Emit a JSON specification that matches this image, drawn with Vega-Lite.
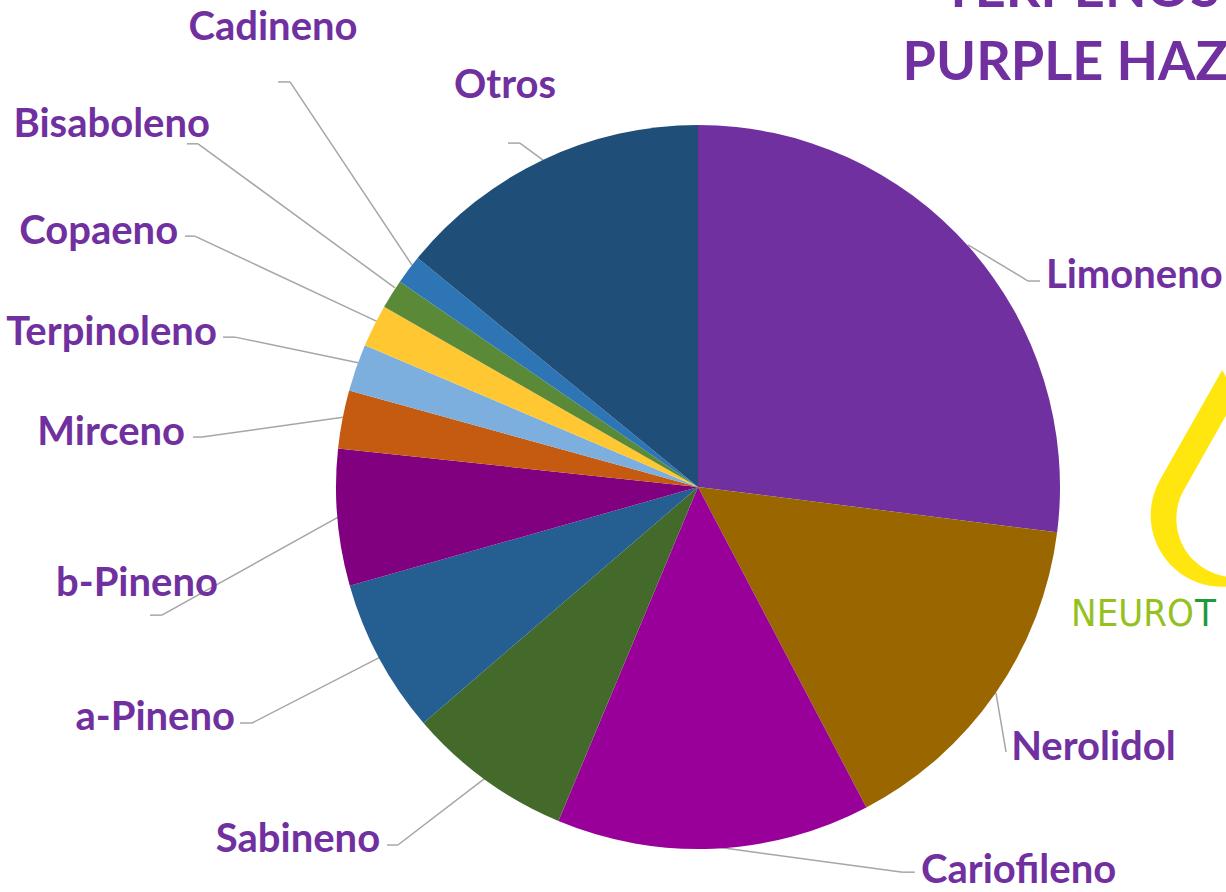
{
  "$schema": "https://vega.github.io/schema/vega-lite/v6.json",
  "width": 724,
  "height": 724,
  "autosize": "none",
  "padding": {"left": 336, "top": 125, "right": 166, "bottom": 43},
  "background": "white",
  "config": {
    "view": {"stroke": null},
    "axis": {"disable": true},
    "text": {"font": "Lato", "fontWeight": "bold", "fontSize": 40, "color": "#7030A0"},
    "rule": {"color": "#A6A6A6", "strokeWidth": 1.5}
  },
  "datasets": {
    "terpenos": [
      {"terpeno": "Limoneno", "valor": 27.0, "orden": 1},
      {"terpeno": "Nerolidol", "valor": 15.3, "orden": 2},
      {"terpeno": "Cariofileno", "valor": 14.0, "orden": 3},
      {"terpeno": "Sabineno", "valor": 7.4, "orden": 4},
      {"terpeno": "a-Pineno", "valor": 6.9, "orden": 5},
      {"terpeno": "b-Pineno", "valor": 6.1, "orden": 6},
      {"terpeno": "Mirceno", "valor": 2.6, "orden": 7},
      {"terpeno": "Terpinoleno", "valor": 2.1, "orden": 8},
      {"terpeno": "Copaeno", "valor": 1.9, "orden": 9},
      {"terpeno": "Bisaboleno", "valor": 1.3, "orden": 10},
      {"terpeno": "Cadineno", "valor": 1.3, "orden": 11},
      {"terpeno": "Otros", "valor": 14.1, "orden": 12}
    ]
  },
  "data": {"name": "terpenos"},
  "layer": [
    {"data": {"values": [{}]}, "mark": {"type": "rule"}, "encoding": {"x": {"datum": 0.945, "type": "quantitative", "scale": {"domain": [-1, 1]}, "axis": null}, "y": {"datum": -0.569, "type": "quantitative", "scale": {"domain": [-1, 1], "reverse": true}, "axis": null}, "x2": {"datum": 0.912}, "y2": {"datum": -0.569}}},
    {"data": {"values": [{}]}, "mark": {"type": "rule"}, "encoding": {"x": {"datum": 0.912, "type": "quantitative", "scale": {"domain": [-1, 1]}, "axis": null}, "y": {"datum": -0.569, "type": "quantitative", "scale": {"domain": [-1, 1], "reverse": true}, "axis": null}, "x2": {"datum": 0.746}, "y2": {"datum": -0.669}}},
    {"data": {"values": [{}]}, "mark": {"type": "rule"}, "encoding": {"x": {"datum": 0.851, "type": "quantitative", "scale": {"domain": [-1, 1]}, "axis": null}, "y": {"datum": 0.732, "type": "quantitative", "scale": {"domain": [-1, 1], "reverse": true}, "axis": null}, "x2": {"datum": 0.823}, "y2": {"datum": 0.569}}},
    {"data": {"values": [{}]}, "mark": {"type": "rule"}, "encoding": {"x": {"datum": 0.599, "type": "quantitative", "scale": {"domain": [-1, 1]}, "axis": null}, "y": {"datum": 1.064, "type": "quantitative", "scale": {"domain": [-1, 1], "reverse": true}, "axis": null}, "x2": {"datum": 0.566}, "y2": {"datum": 1.064}}},
    {"data": {"values": [{}]}, "mark": {"type": "rule"}, "encoding": {"x": {"datum": 0.566, "type": "quantitative", "scale": {"domain": [-1, 1]}, "axis": null}, "y": {"datum": 1.064, "type": "quantitative", "scale": {"domain": [-1, 1], "reverse": true}, "axis": null}, "x2": {"datum": 0.047}, "y2": {"datum": 0.994}}},
    {"data": {"values": [{}]}, "mark": {"type": "rule"}, "encoding": {"x": {"datum": -0.859, "type": "quantitative", "scale": {"domain": [-1, 1]}, "axis": null}, "y": {"datum": 0.989, "type": "quantitative", "scale": {"domain": [-1, 1], "reverse": true}, "axis": null}, "x2": {"datum": -0.829}, "y2": {"datum": 0.989}}},
    {"data": {"values": [{}]}, "mark": {"type": "rule"}, "encoding": {"x": {"datum": -0.829, "type": "quantitative", "scale": {"domain": [-1, 1]}, "axis": null}, "y": {"datum": 0.989, "type": "quantitative", "scale": {"domain": [-1, 1], "reverse": true}, "axis": null}, "x2": {"datum": -0.588}, "y2": {"datum": 0.804}}},
    {"data": {"values": [{}]}, "mark": {"type": "rule"}, "encoding": {"x": {"datum": -1.265, "type": "quantitative", "scale": {"domain": [-1, 1]}, "axis": null}, "y": {"datum": 0.652, "type": "quantitative", "scale": {"domain": [-1, 1], "reverse": true}, "axis": null}, "x2": {"datum": -1.232}, "y2": {"datum": 0.652}}},
    {"data": {"values": [{}]}, "mark": {"type": "rule"}, "encoding": {"x": {"datum": -1.232, "type": "quantitative", "scale": {"domain": [-1, 1]}, "axis": null}, "y": {"datum": 0.652, "type": "quantitative", "scale": {"domain": [-1, 1], "reverse": true}, "axis": null}, "x2": {"datum": -0.878}, "y2": {"datum": 0.47}}},
    {"data": {"values": [{}]}, "mark": {"type": "rule"}, "encoding": {"x": {"datum": -1.514, "type": "quantitative", "scale": {"domain": [-1, 1]}, "axis": null}, "y": {"datum": 0.354, "type": "quantitative", "scale": {"domain": [-1, 1], "reverse": true}, "axis": null}, "x2": {"datum": -1.481}, "y2": {"datum": 0.354}}},
    {"data": {"values": [{}]}, "mark": {"type": "rule"}, "encoding": {"x": {"datum": -1.481, "type": "quantitative", "scale": {"domain": [-1, 1]}, "axis": null}, "y": {"datum": 0.354, "type": "quantitative", "scale": {"domain": [-1, 1], "reverse": true}, "axis": null}, "x2": {"datum": -0.994}, "y2": {"datum": 0.083}}},
    {"data": {"values": [{}]}, "mark": {"type": "rule"}, "encoding": {"x": {"datum": -1.395, "type": "quantitative", "scale": {"domain": [-1, 1]}, "axis": null}, "y": {"datum": -0.138, "type": "quantitative", "scale": {"domain": [-1, 1], "reverse": true}, "axis": null}, "x2": {"datum": -1.37}, "y2": {"datum": -0.138}}},
    {"data": {"values": [{}]}, "mark": {"type": "rule"}, "encoding": {"x": {"datum": -1.37, "type": "quantitative", "scale": {"domain": [-1, 1]}, "axis": null}, "y": {"datum": -0.138, "type": "quantitative", "scale": {"domain": [-1, 1], "reverse": true}, "axis": null}, "x2": {"datum": -0.981}, "y2": {"datum": -0.193}}},
    {"data": {"values": [{}]}, "mark": {"type": "rule"}, "encoding": {"x": {"datum": -1.312, "type": "quantitative", "scale": {"domain": [-1, 1]}, "axis": null}, "y": {"datum": -0.414, "type": "quantitative", "scale": {"domain": [-1, 1], "reverse": true}, "axis": null}, "x2": {"datum": -1.279}, "y2": {"datum": -0.414}}},
    {"data": {"values": [{}]}, "mark": {"type": "rule"}, "encoding": {"x": {"datum": -1.279, "type": "quantitative", "scale": {"domain": [-1, 1]}, "axis": null}, "y": {"datum": -0.414, "type": "quantitative", "scale": {"domain": [-1, 1], "reverse": true}, "axis": null}, "x2": {"datum": -0.939}, "y2": {"datum": -0.343}}},
    {"data": {"values": [{}]}, "mark": {"type": "rule"}, "encoding": {"x": {"datum": -1.417, "type": "quantitative", "scale": {"domain": [-1, 1]}, "axis": null}, "y": {"datum": -0.693, "type": "quantitative", "scale": {"domain": [-1, 1], "reverse": true}, "axis": null}, "x2": {"datum": -1.39}, "y2": {"datum": -0.693}}},
    {"data": {"values": [{}]}, "mark": {"type": "rule"}, "encoding": {"x": {"datum": -1.39, "type": "quantitative", "scale": {"domain": [-1, 1]}, "axis": null}, "y": {"datum": -0.693, "type": "quantitative", "scale": {"domain": [-1, 1], "reverse": true}, "axis": null}, "x2": {"datum": -0.884}, "y2": {"datum": -0.456}}},
    {"data": {"values": [{}]}, "mark": {"type": "rule"}, "encoding": {"x": {"datum": -1.412, "type": "quantitative", "scale": {"domain": [-1, 1]}, "axis": null}, "y": {"datum": -0.948, "type": "quantitative", "scale": {"domain": [-1, 1], "reverse": true}, "axis": null}, "x2": {"datum": -1.381}, "y2": {"datum": -0.948}}},
    {"data": {"values": [{}]}, "mark": {"type": "rule"}, "encoding": {"x": {"datum": -1.381, "type": "quantitative", "scale": {"domain": [-1, 1]}, "axis": null}, "y": {"datum": -0.948, "type": "quantitative", "scale": {"domain": [-1, 1], "reverse": true}, "axis": null}, "x2": {"datum": -0.837}, "y2": {"datum": -0.55}}},
    {"data": {"values": [{}]}, "mark": {"type": "rule"}, "encoding": {"x": {"datum": -1.16, "type": "quantitative", "scale": {"domain": [-1, 1]}, "axis": null}, "y": {"datum": -1.119, "type": "quantitative", "scale": {"domain": [-1, 1], "reverse": true}, "axis": null}, "x2": {"datum": -1.127}, "y2": {"datum": -1.119}}},
    {"data": {"values": [{}]}, "mark": {"type": "rule"}, "encoding": {"x": {"datum": -1.127, "type": "quantitative", "scale": {"domain": [-1, 1]}, "axis": null}, "y": {"datum": -1.119, "type": "quantitative", "scale": {"domain": [-1, 1], "reverse": true}, "axis": null}, "x2": {"datum": -0.79}, "y2": {"datum": -0.613}}},
    {"data": {"values": [{}]}, "mark": {"type": "rule"}, "encoding": {"x": {"datum": -0.525, "type": "quantitative", "scale": {"domain": [-1, 1]}, "axis": null}, "y": {"datum": -0.95, "type": "quantitative", "scale": {"domain": [-1, 1], "reverse": true}, "axis": null}, "x2": {"datum": -0.492}, "y2": {"datum": -0.95}}},
    {"data": {"values": [{}]}, "mark": {"type": "rule"}, "encoding": {"x": {"datum": -0.492, "type": "quantitative", "scale": {"domain": [-1, 1]}, "axis": null}, "y": {"datum": -0.95, "type": "quantitative", "scale": {"domain": [-1, 1], "reverse": true}, "axis": null}, "x2": {"datum": -0.428}, "y2": {"datum": -0.903}}},
    {
      "mark": {"type": "arc"},
      "encoding": {
        "theta": {"field": "valor", "type": "quantitative", "stack": true},
        "order": {"field": "orden", "type": "quantitative"},
        "color": {
          "field": "terpeno",
          "type": "nominal",
          "legend": null,
          "scale": {
            "domain": ["Limoneno", "Nerolidol", "Cariofileno", "Sabineno", "a-Pineno", "b-Pineno", "Mirceno", "Terpinoleno", "Copaeno", "Bisaboleno", "Cadineno", "Otros"],
            "range": ["#7030A0", "#996600", "#990099", "#436A2B", "#255E91", "#800080", "#C55A11", "#7CAFDD", "#FFC832", "#5A8A37", "#2E75B6", "#1F4E79"]
          }
        }
      }
    },
    {"data": {"values": [{}]}, "mark": {"type": "text", "align": "left", "baseline": "middle", "text": "Limoneno"}, "encoding": {"x": {"datum": 0.961, "type": "quantitative", "scale": {"domain": [-1, 1]}, "axis": null}, "y": {"datum": -0.583, "type": "quantitative", "scale": {"domain": [-1, 1], "reverse": true}, "axis": null}}},
    {"data": {"values": [{}]}, "mark": {"type": "text", "align": "left", "baseline": "middle", "text": "Nerolidol"}, "encoding": {"x": {"datum": 0.865, "type": "quantitative", "scale": {"domain": [-1, 1]}, "axis": null}, "y": {"datum": 0.721, "type": "quantitative", "scale": {"domain": [-1, 1], "reverse": true}, "axis": null}}},
    {"data": {"values": [{}]}, "mark": {"type": "text", "align": "left", "baseline": "middle", "text": "Cariofileno"}, "encoding": {"x": {"datum": 0.616, "type": "quantitative", "scale": {"domain": [-1, 1]}, "axis": null}, "y": {"datum": 1.061, "type": "quantitative", "scale": {"domain": [-1, 1], "reverse": true}, "axis": null}}},
    {"data": {"values": [{}]}, "mark": {"type": "text", "align": "right", "baseline": "middle", "text": "Sabineno"}, "encoding": {"x": {"datum": -0.878, "type": "quantitative", "scale": {"domain": [-1, 1]}, "axis": null}, "y": {"datum": 0.975, "type": "quantitative", "scale": {"domain": [-1, 1], "reverse": true}, "axis": null}}},
    {"data": {"values": [{}]}, "mark": {"type": "text", "align": "right", "baseline": "middle", "text": "a-Pineno"}, "encoding": {"x": {"datum": -1.279, "type": "quantitative", "scale": {"domain": [-1, 1]}, "axis": null}, "y": {"datum": 0.638, "type": "quantitative", "scale": {"domain": [-1, 1], "reverse": true}, "axis": null}}},
    {"data": {"values": [{}]}, "mark": {"type": "text", "align": "right", "baseline": "middle", "text": "b-Pineno"}, "encoding": {"x": {"datum": -1.326, "type": "quantitative", "scale": {"domain": [-1, 1]}, "axis": null}, "y": {"datum": 0.268, "type": "quantitative", "scale": {"domain": [-1, 1], "reverse": true}, "axis": null}}},
    {"data": {"values": [{}]}, "mark": {"type": "text", "align": "right", "baseline": "middle", "text": "Mirceno"}, "encoding": {"x": {"datum": -1.417, "type": "quantitative", "scale": {"domain": [-1, 1]}, "axis": null}, "y": {"datum": -0.149, "type": "quantitative", "scale": {"domain": [-1, 1], "reverse": true}, "axis": null}}},
    {"data": {"values": [{}]}, "mark": {"type": "text", "align": "right", "baseline": "middle", "text": "Terpinoleno"}, "encoding": {"x": {"datum": -1.329, "type": "quantitative", "scale": {"domain": [-1, 1]}, "axis": null}, "y": {"datum": -0.425, "type": "quantitative", "scale": {"domain": [-1, 1], "reverse": true}, "axis": null}}},
    {"data": {"values": [{}]}, "mark": {"type": "text", "align": "right", "baseline": "middle", "text": "Copaeno"}, "encoding": {"x": {"datum": -1.436, "type": "quantitative", "scale": {"domain": [-1, 1]}, "axis": null}, "y": {"datum": -0.704, "type": "quantitative", "scale": {"domain": [-1, 1], "reverse": true}, "axis": null}}},
    {"data": {"values": [{}]}, "mark": {"type": "text", "align": "right", "baseline": "middle", "text": "Bisaboleno"}, "encoding": {"x": {"datum": -1.348, "type": "quantitative", "scale": {"domain": [-1, 1]}, "axis": null}, "y": {"datum": -1.0, "type": "quantitative", "scale": {"domain": [-1, 1], "reverse": true}, "axis": null}}},
    {"data": {"values": [{}]}, "mark": {"type": "text", "align": "center", "baseline": "middle", "text": "Cadineno"}, "encoding": {"x": {"datum": -1.174, "type": "quantitative", "scale": {"domain": [-1, 1]}, "axis": null}, "y": {"datum": -1.268, "type": "quantitative", "scale": {"domain": [-1, 1], "reverse": true}, "axis": null}}},
    {"data": {"values": [{}]}, "mark": {"type": "text", "align": "center", "baseline": "middle", "text": "Otros"}, "encoding": {"x": {"datum": -0.533, "type": "quantitative", "scale": {"domain": [-1, 1]}, "axis": null}, "y": {"datum": -1.108, "type": "quantitative", "scale": {"domain": [-1, 1], "reverse": true}, "axis": null}}},
    {"data": {"values": [{}]}, "mark": {"type": "text", "align": "center", "baseline": "middle", "fontSize": 54, "text": "TERPENOS"}, "encoding": {"x": {"datum": 1.058, "type": "quantitative", "scale": {"domain": [-1, 1]}, "axis": null}, "y": {"datum": -1.37, "type": "quantitative", "scale": {"domain": [-1, 1], "reverse": true}, "axis": null}}},
    {"data": {"values": [{}]}, "mark": {"type": "text", "align": "center", "baseline": "middle", "fontSize": 54, "text": "PURPLE HAZE"}, "encoding": {"x": {"datum": 1.058, "type": "quantitative", "scale": {"domain": [-1, 1]}, "axis": null}, "y": {"datum": -1.168, "type": "quantitative", "scale": {"domain": [-1, 1], "reverse": true}, "axis": null}}},
    {"data": {"values": [{}]}, "mark": {"type": "point", "filled": true, "opacity": 1, "color": "#FFE60F", "size": 48400, "shape": "M0,-1 L0.566,0 A0.65,0.65 0 1 1 -0.566,0 Z"}, "encoding": {"x": {"datum": 1.448, "type": "quantitative", "scale": {"domain": [-1, 1]}, "axis": null}, "y": {"datum": -0.019, "type": "quantitative", "scale": {"domain": [-1, 1], "reverse": true}, "axis": null}}},
    {"data": {"values": [{}]}, "mark": {"type": "point", "filled": true, "opacity": 1, "color": "white", "size": 32400, "shape": "M0,-1 L0.566,0 A0.65,0.65 0 1 1 -0.566,0 Z"}, "encoding": {"x": {"datum": 1.483, "type": "quantitative", "scale": {"domain": [-1, 1]}, "axis": null}, "y": {"datum": 0.008, "type": "quantitative", "scale": {"domain": [-1, 1], "reverse": true}, "axis": null}}},
    {"data": {"values": [{}]}, "mark": {"type": "text", "align": "right", "baseline": "middle", "font": "DejaVu Sans Condensed, sans-serif", "fontWeight": "normal", "fontSize": 38, "color": "#95C11F", "text": "NEURO"}, "encoding": {"x": {"datum": 1.37, "type": "quantitative", "scale": {"domain": [-1, 1]}, "axis": null}, "y": {"datum": 0.354, "type": "quantitative", "scale": {"domain": [-1, 1], "reverse": true}, "axis": null}}},
    {"data": {"values": [{}]}, "mark": {"type": "text", "align": "left", "baseline": "middle", "font": "DejaVu Sans Condensed, sans-serif", "fontWeight": "normal", "fontSize": 38, "color": "#1D9A3C", "text": "T"}, "encoding": {"x": {"datum": 1.373, "type": "quantitative", "scale": {"domain": [-1, 1]}, "axis": null}, "y": {"datum": 0.354, "type": "quantitative", "scale": {"domain": [-1, 1], "reverse": true}, "axis": null}}}
  ]
}
